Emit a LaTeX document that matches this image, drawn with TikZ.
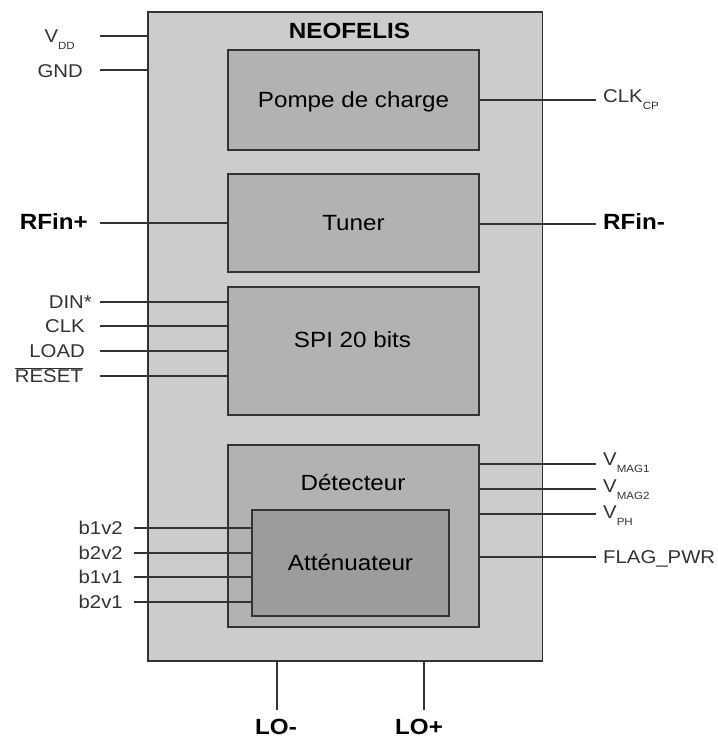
\documentclass[tikz,border=0pt]{standalone}
\usepackage{fontspec}
\setmainfont{Liberation Sans}[FakeStretch=1.1]
\usetikzlibrary{positioning}
\definecolor{neochip}{HTML}{CCCCCC}
\definecolor{neoblock}{HTML}{B2B2B2}
\definecolor{neoatt}{HTML}{9C9C9C}
\definecolor{neoline}{HTML}{333333}
\definecolor{neotext}{HTML}{333333}
\newcommand{\pinsub}[1]{\raisebox{-6.5pt}{\fontsize{10.5}{11}\selectfont #1}}

\begin{document}
\begin{tikzpicture}[x=1pt, y=-1pt,
    chipbox/.style={draw=neoline, line width=1.2pt, fill=neochip, inner sep=0pt},
    block/.style={draw=neoline, line width=1.2pt, fill=neoblock, inner sep=0pt,
                  minimum width=251pt, font=\fontsize{22}{24}\selectfont,
                  text height=15.75pt, text depth=0pt},
    blktxt/.style={inner sep=0pt, font=\fontsize{22}{24}\selectfont,
                   text height=15.75pt, text depth=0pt},
    title/.style={blktxt, font=\fontsize{22}{24}\selectfont\bfseries},
    lbl/.style={inner sep=0pt, text=neotext, font=\fontsize{18.5}{20}\selectfont,
                text height=13.2pt, text depth=0pt},
    bold/.style={lbl, text=black, font=\fontsize{22}{24}\selectfont\bfseries,
                 text height=15.75pt},
    wire/.style={neoline, line width=1.2pt}]

  \useasboundingbox (0,0) rectangle (717,738);

  % ---- chip and its blocks ----
  \node[chipbox, minimum width=394.5pt, minimum height=649pt] (chip) at (345.25,336.5) {};
  \node[title] (neo) at (349.5,31) {NEOFELIS};

  \node[block, minimum height=100pt] (pompe) at (353.5,100) {Pompe de charge};
  \node[block, minimum height=98pt]  (tuner) at (353.5,223) {Tuner};
  \node[block, minimum height=128pt] (spi)   at (353.5,351) {};
  \node[blktxt] (spitxt) at (352.5,340) {SPI 20 bits};
  \node[block, minimum height=182pt] (det)   at (353.5,536) {};
  \node[blktxt] (dettxt) at (353,483) {Détecteur};
  \node[block, fill=neoatt, minimum width=197pt, minimum height=106pt] (att)
        at (350.5,563) {Atténuateur};

  % ---- pins, left ----
  \coordinate (pvdd)  at (100,36);
  \coordinate (pgnd)  at (100,70);
  \coordinate (prfp)  at (100,223);
  \coordinate (pdin)  at (100,302);
  \coordinate (pclk)  at (100,326);
  \coordinate (pload) at (100,351);
  \coordinate (prst)  at (100,376);
  \coordinate (pbaa)  at (134,528);
  \coordinate (pbba)  at (134,553);
  \coordinate (pbab)  at (134,577);
  \coordinate (pbbb)  at (134,602);

  \node[lbl, anchor=east]  (vdd)  at (75,36)  {V\pinsub{DD}};
  \node[lbl, anchor=east]  (gnd)  at (83,71)  {GND};
  \node[bold, anchor=east] (rfp)  at (88,222) {RFin+};
  \node[lbl, anchor=east]  (din)  at (92,302) {DIN*};
  \node[lbl, anchor=east]  (clk)  at (85,326) {CLK};
  \node[lbl, anchor=east]  (load) at (85,351) {LOAD};
  \node[lbl, anchor=east]  (rst)  at (83,376) {$\overline{\mbox{RESET}}$};
  \node[lbl, anchor=east]  (baa)  at (123,528) {b1v2};
  \node[lbl, anchor=east]  (bba)  at (123,553) {b2v2};
  \node[lbl, anchor=east]  (bab)  at (123,577) {b1v1};
  \node[lbl, anchor=east]  (bbb)  at (123,602) {b2v1};

  % ---- pins, right ----
  \coordinate (pclkcp) at (596,100);
  \coordinate (prfm)   at (596,224);
  \coordinate (pmaga)  at (596,464);
  \coordinate (pmagb)  at (596,489);
  \coordinate (pph)    at (596,514);
  \coordinate (pflag)  at (596,557);

  \node[lbl, anchor=west]  (clkcp) at (603,96)  {CLK\pinsub{CP}};
  \node[bold, anchor=west] (rfm)   at (603,222) {RFin-};
  \node[lbl, anchor=west]  (maga)  at (603,459) {V\pinsub{MAG1}};
  \node[lbl, anchor=west]  (magb)  at (603,486) {V\pinsub{MAG2}};
  \node[lbl, anchor=west]  (ph)    at (603,512) {V\pinsub{PH}};
  \node[lbl, anchor=west]  (flag)  at (603,557) {FLAG\_PWR};

  % ---- pins, bottom ----
  \coordinate (plom) at (277,710);
  \coordinate (plop) at (424,710);
  \node[bold] (lom) at (276,727) {LO-};
  \node[bold] (lop) at (419,727) {LO+};

  % ---- wires ----
  \draw[wire] (pvdd)  -- (pvdd -| chip.west);
  \draw[wire] (pgnd)  -- (pgnd -| chip.west);
  \draw[wire] (prfp)  -- (prfp -| tuner.west);
  \draw[wire] (pdin)  -- (pdin -| spi.west);
  \draw[wire] (pclk)  -- (pclk -| spi.west);
  \draw[wire] (pload) -- (pload -| spi.west);
  \draw[wire] (prst)  -- (prst -| spi.west);
  \draw[wire] (pbaa)  -- (pbaa -| att.west);
  \draw[wire] (pbba)  -- (pbba -| att.west);
  \draw[wire] (pbab)  -- (pbab -| att.west);
  \draw[wire] (pbbb)  -- (pbbb -| att.west);

  \draw[wire] (pclkcp -| pompe.east) -- (pclkcp);
  \draw[wire] (prfm -| tuner.east)   -- (prfm);
  \draw[wire] (pmaga -| det.east)    -- (pmaga);
  \draw[wire] (pmagb -| det.east)    -- (pmagb);
  \draw[wire] (pph -| det.east)      -- (pph);
  \draw[wire] (pflag -| det.east)    -- (pflag);

  \draw[wire] (plom |- chip.south) -- (plom);
  \draw[wire] (plop |- chip.south) -- (plop);
\end{tikzpicture}
\end{document}
